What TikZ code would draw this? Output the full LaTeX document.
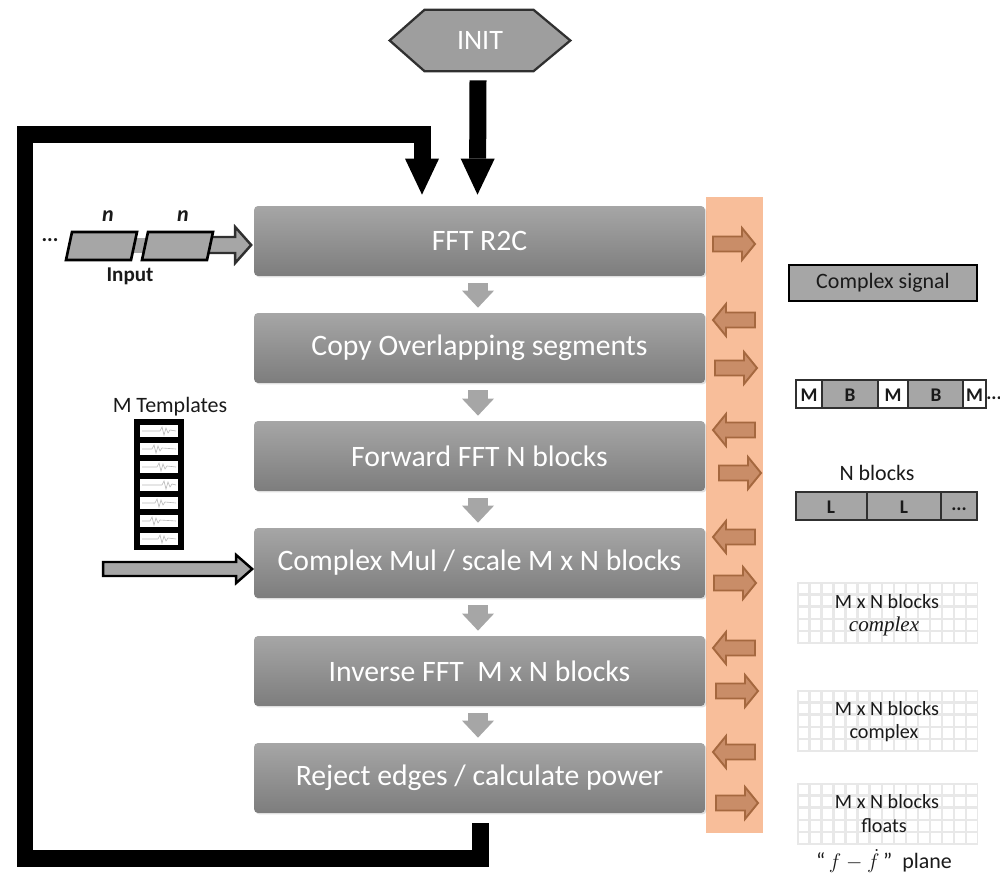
\documentclass[tikz,border=0pt]{standalone}
\usepackage{fontspec}
\setmainfont{Carlito}
\newfontfamily\serifit{Liberation Serif}
\usetikzlibrary{arrows.meta,calc,shadows}
\definecolor{boxtop}{HTML}{A6A6A6}
\definecolor{boxbot}{HTML}{7D7D7D}
\definecolor{midgray}{HTML}{A6A6A6}
\definecolor{band}{HTML}{F8BE9A}
\definecolor{oafill}{HTML}{C98D68}
\definecolor{oadraw}{HTML}{A5683F}
\definecolor{gridline}{HTML}{E8E8E8}
\definecolor{txt}{HTML}{1A1A1A}
\definecolor{edge}{HTML}{303030}
\pgfdeclarelayer{bg}
\pgfsetlayers{bg,main}
\begin{document}
\begin{tikzpicture}[x=0.02cm,y=-0.02cm,
  mainbox/.style={rounded corners=0.08cm, top color=boxtop, bottom color=boxbot,
    minimum width=9.02cm, minimum height=1.4cm, inner sep=0pt, text=white,
    font=\fontsize{16.9}{20}\selectfont,
    drop shadow={shadow xshift=0.03cm, shadow yshift=-0.03cm, opacity=0.25}},
  gconn/.style={draw=midgray, line width=0.4cm,
    -{Triangle[width=0.64cm,length=0.34cm,line width=0pt]}},
  thickconn/.style={draw=black, line width=0.34cm, line join=miter,
    -{Triangle[width=0.68cm,length=0.72cm,line width=0pt]}},
  blockarrow/.style={fill=midgray, draw=edge, line width=1.4pt, line join=miter},
  lbl/.style={text=txt, inner sep=0pt, font=\fontsize{12.5}{15}\selectfont},
  small/.style={text=txt, inner sep=0pt, font=\fontsize{11.5}{14}\selectfont},
  cellbold/.style={text=txt, inner sep=0pt, font=\fontsize{11}{13}\selectfont\bfseries},
  cellbox/.style={draw=edge, line width=1.2pt},
  oarr/.pic={\filldraw[fill=oafill,draw=oadraw,line width=1.1pt,line join=miter]
    (-21,-7.5) -- (8,-7.5) -- (8,-16) -- (21,0) -- (8,16) -- (8,7.5) -- (-21,7.5) -- cycle;},
  wave/.style={draw=gray!55, line width=0.35pt}
]
\useasboundingbox (0,0) rectangle (1000,874);

% ---- orange band ----
\begin{pgfonlayer}{bg}
\fill[band] (706,197) rectangle (763,833);
\end{pgfonlayer}

% ---- main boxes ----
\node[mainbox] (fft)  at (479.5,241) {FFT R2C};
\node[mainbox] (copy) at (479.5,348) {Copy Overlapping segments};
\node[mainbox] (fwd)  at (479.5,456) {Forward FFT N blocks};
\node[mainbox] (mul)  at (479.5,563) {Complex Mul / scale M x N blocks};
\node[mainbox] (inv)  at (479.5,671) {Inverse FFT\ \ M x N blocks};
\node[mainbox] (rej)  at (479.5,778) {Reject edges / calculate power};

% ---- gray flow arrows ----
\draw[gconn] ([shift={(-1.5,7)}]fft.south)  -- ([shift={(-1.5,-5)}]copy.north);
\draw[gconn] ([shift={(-1.5,7)}]copy.south) -- ([shift={(-1.5,-5)}]fwd.north);
\draw[gconn] ([shift={(-1.5,7)}]fwd.south)  -- ([shift={(-1.5,-5)}]mul.north);
\draw[gconn] ([shift={(-1.5,7)}]mul.south)  -- ([shift={(-1.5,-5)}]inv.north);
\draw[gconn] ([shift={(-1.5,7)}]inv.south)  -- ([shift={(-1.5,-5)}]rej.north);

% ---- INIT ----
\node[minimum width=3.6cm, minimum height=1.22cm, inner sep=0pt, text=white,
      font=\fontsize{16}{19}\selectfont] (init) at (480,40.5) {INIT};
\begin{pgfonlayer}{bg}
\filldraw[fill=boxtop!95!black, draw=edge, line width=1.3pt]
  (init.west) -- ([xshift=0.7cm]init.north west) -- ([xshift=-0.74cm]init.north east)
  -- (init.east) -- ([xshift=-0.74cm]init.south east) -- ([xshift=0.7cm]init.south west) -- cycle;
\end{pgfonlayer}
\draw[thickconn] ([shift={(-2,9)}]init.south) -- ([shift={(-2,-11)}]fft.north);

% ---- feedback loop ----
\draw[thickconn] ([shift={(0.5,10)}]rej.south) -- ++(0,35) -| (25,135)
  -| ([shift={(-57.5,-11)}]fft.north);

% ---- orange data arrows ----
\pic at (734,244) {oarr};
\pic[rotate=180] at (734,320) {oarr};
\pic at (736,368) {oarr};
\pic[rotate=180] at (734,430) {oarr};
\pic at (740,473) {oarr};
\pic[rotate=180] at (734,537) {oarr};
\pic at (735,583) {oarr};
\pic[rotate=180] at (734,648) {oarr};
\pic at (737,691) {oarr};
\pic[rotate=180] at (734,752) {oarr};
\pic at (737,803) {oarr};

% ---- input ----
\node[cellbold, font=\fontsize{12}{14}\selectfont\bfseries] (dots) at (50,240) {...};
\fill[midgray] (130,238) rectangle (148,253);
\coordinate (inTip) at ([shift={(-2.5,4)}]fft.west);
\filldraw[blockarrow] (inTip) -- ++(-16,18) -- ++(0,-10) -- ++(-29,0) -- ++(0,-16)
  -- ++(29,0) -- ++(0,-10) -- cycle;
\filldraw[fill=midgray, draw=black, line width=1.5pt, line join=miter]
  (142,260) -- (148,232) -- (213,232) -- (207,260) -- cycle;
\filldraw[fill=midgray, draw=black, line width=1.5pt, line join=miter]
  (66,260) -- (72,232) -- (137,232) -- (131,260) -- cycle;
\node[lbl, font=\fontsize{12.5}{15}\selectfont\bfseries\itshape] (n1) at (108,216) {n};
\node[lbl, font=\fontsize{12.5}{15}\selectfont\bfseries\itshape] (n2) at (183,216) {n};
\node[lbl, font=\fontsize{12}{14}\selectfont\bfseries] (inlbl) at (130,276) {Input};

% ---- templates ----
\node[lbl] (tmpl) at (170,407) {M Templates};
\fill[black] (134,419) rectangle (184,550);
\foreach \k/\xo in {0/160,1/152,2/157,3/162,4/155,5/150,6/158}{
  \fill[white] (140,425+18*\k) rectangle (178,437+18*\k);
  \draw[wave] (142,431+18*\k) -- (\xo,431+18*\k) -- (\xo+2,427+18*\k) -- (\xo+4,435+18*\k)
     -- (\xo+6,428+18*\k) -- (\xo+8,433+18*\k) -- (\xo+10,430+18*\k) -- (176,431+18*\k);
}
\coordinate (tmTip) at ([shift={(-1.5,6)}]mul.west);
\filldraw[blockarrow, draw=black] (tmTip) -- ++(-16,14) -- ++(0,-7) -- ++(-133,0) -- ++(0,-14)
  -- ++(133,0) -- ++(0,-7) -- cycle;

% ---- right side data formats ----
\node[draw=black, line width=1.6pt, fill=midgray, minimum width=3.76cm, minimum height=0.72cm,
      inner sep=0pt, text=txt, font=\fontsize{12.5}{15}\selectfont] (csig) at (883,283) {Complex signal};

% M B M B M row
\filldraw[cellbox, fill=white]   (796,380) rectangle (822,408);
\filldraw[cellbox, fill=midgray] (822,380) rectangle (878,408);
\filldraw[cellbox, fill=white]   (878,380) rectangle (908,408);
\filldraw[cellbox, fill=midgray] (908,380) rectangle (963,408);
\filldraw[cellbox, fill=white]   (963,380) rectangle (986,408);
\node[cellbold] (m1) at (809,395) {M};
\node[cellbold] (b1) at (850,395) {B};
\node[cellbold] (m2) at (893,395) {M};
\node[cellbold] (b2) at (936,395) {B};
\node[cellbold] (m3) at (974.5,395) {M};
\node[cellbold] (mdots) at (994,398) {...};

% N blocks row
\node[lbl] (nbl) at (877,473) {N blocks};
\filldraw[cellbox, fill=midgray] (796,492) rectangle (867,520);
\filldraw[cellbox, fill=midgray] (867,492) rectangle (941,520);
\filldraw[cellbox, fill=midgray] (941,492) rectangle (977,520);
\node[cellbold] (l1) at (831,507) {L};
\node[cellbold] (l2) at (904,507) {L};
\node[cellbold] (ldots) at (959,509) {...};

% grids
\foreach \gy in {582,690,783}{
  \fill[gridline] (797,\gy) rectangle (978,\gy+62);
  \foreach \i in {0,...,14}{
    \foreach \j in {0,...,4}{
      \fill[white] (798.5+\i*12.07,\gy+1.5+\j*12.2) rectangle ++(9.6,9.6);
    }
  }
}
\node[small] (g1a) at (887,602) {M x N blocks};
\node[small, font=\fontsize{12}{14}\selectfont\serifit\itshape] (g1b) at (884,626) {complex};
\node[small] (g2a) at (887,709) {M x N blocks};
\node[small] (g2b) at (884,733) {complex};
\node[small] (g3a) at (887,802) {M x N blocks};
\node[small] (g3b) at (884,826) {floats};
\node[small, font=\fontsize{12.5}{15}\selectfont] (plane) at (884,861) {“\,$f-\dot{f}$\,”\ \ plane};
\end{tikzpicture}
\end{document}
